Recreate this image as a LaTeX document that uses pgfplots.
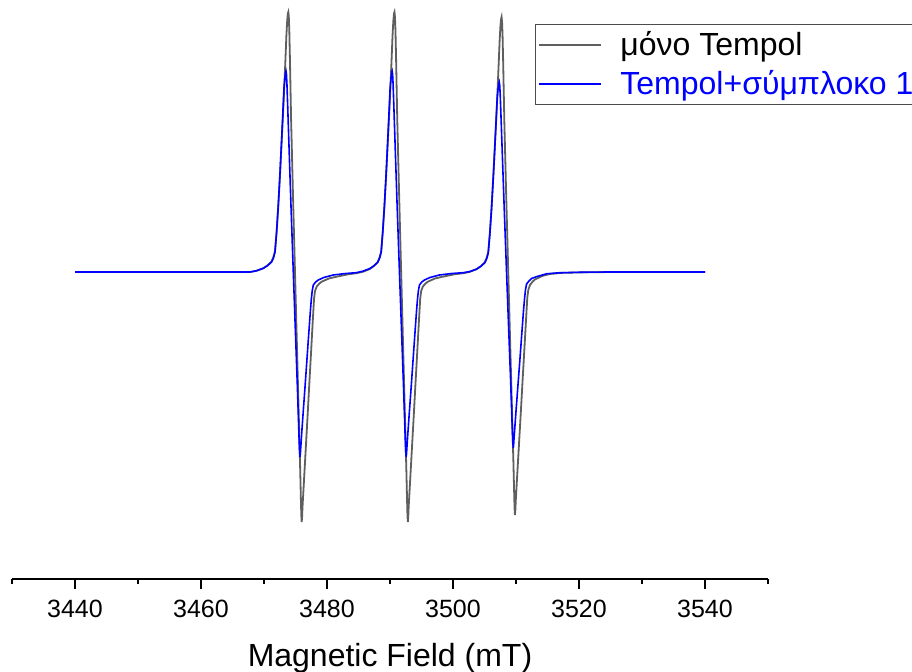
\documentclass[border=0pt]{standalone}
\usepackage{pgfplots}
\pgfplotsset{compat=1.18}
\usepackage{fontspec}
\setmainfont{Liberation Sans}
\definecolor{spec}{RGB}{95,95,95}
\definecolor{specblue}{RGB}{0,0,255}
\begin{document}
\begin{tikzpicture}
\begin{axis}[
  name=ax,
  scale only axis,
  width=378pt, height=289.5pt,
  xmin=3430, xmax=3550,
  ymin=-307, ymax=272,
  clip=false,
  axis x line*=bottom,
  axis y line=none,
  axis line style={line width=1.4pt},
  xtick={3440,3460,3480,3500,3520,3540},
  minor xtick={3430,3450,3470,3490,3510,3530,3550},
  tick align=outside,
  major tick length=5pt,
  minor tick length=2.3pt,
  every tick/.style={line width=1pt, black},
  scaled x ticks=false,
  xticklabel style={font=\fontsize{12.5}{15}\selectfont, anchor=base, yshift=-14.5pt},
  /pgf/number format/assume math mode=true,
  /pgf/number format/1000 sep={},
  xlabel={Magnetic Field (mT)},
  xlabel style={font=\fontsize{16}{19}\selectfont, at={(axis description cs:0.5,0)}, anchor=base, yshift=-44pt},
  legend style={at={(axis description cs:0.6918,0.9585)}, anchor=north west,
    draw=black!70, line width=0.6pt, fill=white,
    font=\fontsize{16}{19}\selectfont,
    inner xsep=1pt, inner ysep=2pt, row sep=3pt, column sep=8pt, nodes={inner sep=1.5pt}},
  legend cell align=left,
]
% black: Tempol alone
\addplot[color=spec, line width=0.9pt,
  legend image code/.code={\draw[spec, line width=0.9pt] (0pt,0pt) -- (31pt,0pt);}] coordinates {
(3440,0) (3467.8,0) (3468.8,1.2) (3469.9,3.8) (3470.6,6.8) (3471.2,10.5) (3471.5,15) (3471.75,21)
(3472.0,40) (3472.27,66) (3472.55,98) (3472.81,131) (3473.0,155) (3473.17,178) (3473.4,212)
(3473.55,236) (3473.68,251) (3473.78,258.5) (3473.86,260) (3473.94,255) (3474.02,241) (3474.12,212)
(3474.3,153) (3474.6,77)
(3474.92,0) (3475.2,-67) (3475.5,-139) (3475.75,-199) (3475.85,-226) (3475.92,-243) (3475.98,-250)
(3476.04,-246) (3476.12,-234)
(3476.3,-214) (3476.6,-180) (3476.9,-146) (3477.2,-111) (3477.5,-77) (3477.75,-48) (3477.94,-27)
(3478.1,-19) (3478.37,-14.5) (3478.8,-11.5) (3479.16,-9.7) (3480.3,-6.5) (3481.54,-4.7) (3483.38,-2.3)
(3484.65,-1.2) (3485.65,0.1) (3486.75,2.8) (3487.45,6) (3488.05,9.9)
(3488.35,14.6) (3488.6,20.6) (3488.85,40) (3489.12,66) (3489.4,98) (3489.66,131) (3489.85,155)
(3490.02,178) (3490.25,212) (3490.4,236) (3490.53,251) (3490.63,258.5) (3490.71,260) (3490.79,255)
(3490.87,241) (3490.97,212) (3491.15,153) (3491.45,77) (3491.77,0) (3492.05,-67) (3492.35,-139)
(3492.6,-199) (3492.7,-226) (3492.77,-243) (3492.83,-250) (3492.89,-246) (3492.97,-234)
(3493.15,-214) (3493.45,-180) (3493.75,-146) (3494.05,-111)
(3494.35,-77) (3494.6,-48) (3494.79,-27) (3494.95,-19) (3495.22,-14.5) (3495.65,-11.5)
(3496.01,-9.7) (3497.15,-6.5) (3498.39,-4.7) (3500.23,-2.3)
(3501.65,-1.2) (3502.65,0.1) (3503.75,2.8) (3504.45,5.9) (3505.05,9.7)
(3505.35,14.3) (3505.6,20.2) (3505.85,39) (3506.12,65) (3506.4,96) (3506.66,128) (3506.85,152)
(3507.02,174) (3507.25,208) (3507.4,231) (3507.53,246) (3507.63,253) (3507.71,255) (3507.79,250)
(3507.87,236) (3507.97,208) (3508.15,150) (3508.45,75) (3508.77,0) (3509.05,-65) (3509.35,-135)
(3509.6,-193) (3509.7,-219) (3509.77,-236) (3509.83,-243) (3509.89,-239) (3509.97,-228)
(3510.15,-208) (3510.45,-175) (3510.75,-142) (3511.05,-108)
(3511.35,-75) (3511.6,-47) (3511.79,-26) (3511.95,-18) (3512.22,-13) (3512.65,-9.5)
(3513.01,-7.5) (3514.15,-4) (3515.39,-2) (3517.23,-0.9) (3521,-0.3) (3526,0) (3540,0)
};
\addlegendentry{μόνο Tempol}
% blue: Tempol + complex 1
\addplot[color=specblue, line width=0.8pt,
  legend image code/.code={\draw[specblue, line width=0.8pt] (0pt,0pt) -- (31pt,0pt);}] coordinates {
(3440,0) (3467.8,0) (3468.8,1.2) (3469.9,3.7) (3470.6,6.5) (3471.2,10) (3471.5,14) (3471.75,20)
(3472.0,40) (3472.27,67) (3472.55,100) (3472.81,134) (3473.0,160) (3473.17,184) (3473.3,193)
(3473.42,199.5) (3473.49,201) (3473.56,198) (3473.64,188) (3473.75,168) (3474.0,120) (3474.3,63)
(3474.65,0) (3475.0,-62)
(3475.3,-115) (3475.55,-163) (3475.63,-177) (3475.71,-185) (3475.77,-182) (3475.85,-174) (3475.9,-169)
(3476.2,-142) (3476.5,-116) (3476.8,-89) (3477.1,-62) (3477.35,-40) (3477.5,-28) (3477.65,-19)
(3477.83,-13) (3478.2,-10) (3478.62,-8) (3479.5,-5.5) (3481.0,-3) (3483.0,-1.5)
(3484.65,-0.7) (3485.65,0.7) (3486.75,3.3) (3487.45,6.2) (3488.05,9.7)
(3488.35,13.8) (3488.6,19.8) (3488.85,40) (3489.12,67) (3489.4,100) (3489.66,134) (3489.85,160)
(3490.02,184) (3490.15,193) (3490.27,199.5) (3490.34,201) (3490.41,198) (3490.49,188) (3490.6,168)
(3490.85,120) (3491.15,63) (3491.5,0) (3491.85,-62) (3492.15,-115) (3492.4,-163) (3492.48,-177)
(3492.56,-185) (3492.62,-182) (3492.7,-174) (3492.75,-169) (3493.05,-142) (3493.35,-116)
(3493.65,-89) (3493.95,-62) (3494.2,-40)
(3494.35,-28) (3494.5,-19) (3494.68,-13) (3495.05,-10) (3495.47,-8) (3496.35,-5.5)
(3497.85,-3) (3499.85,-1.5)
(3501.65,-0.7) (3502.65,0.4) (3503.75,2.9) (3504.45,5.8) (3505.05,9.3)
(3505.35,13.2) (3505.6,19) (3505.85,38) (3506.12,63) (3506.4,95) (3506.66,127) (3506.85,152)
(3507.02,174) (3507.15,183) (3507.27,188.5) (3507.34,190) (3507.41,187) (3507.49,178) (3507.6,159)
(3507.85,114) (3508.15,60) (3508.5,0) (3508.85,-59) (3509.15,-109) (3509.4,-155) (3509.48,-168)
(3509.56,-176) (3509.62,-173) (3509.7,-165) (3509.75,-161) (3510.05,-135) (3510.35,-110)
(3510.65,-85) (3510.95,-59) (3511.2,-38)
(3511.35,-27) (3511.5,-18) (3511.68,-12) (3512.05,-9) (3512.47,-6.5) (3513.35,-4.5)
(3514.85,-1.8) (3516.85,-0.8) (3520,-0.3) (3525,0) (3540,0)
};
\addlegendentry{\textcolor{specblue}{Tempol+σύμπλοκο 1}}
\end{axis}
\pgfresetboundingbox
\path[use as bounding box] ([shift={(-6pt,-46.5pt)}]ax.south west) rectangle ([shift={(450pt,289.5pt)}]ax.south west);
\end{tikzpicture}
\end{document}
